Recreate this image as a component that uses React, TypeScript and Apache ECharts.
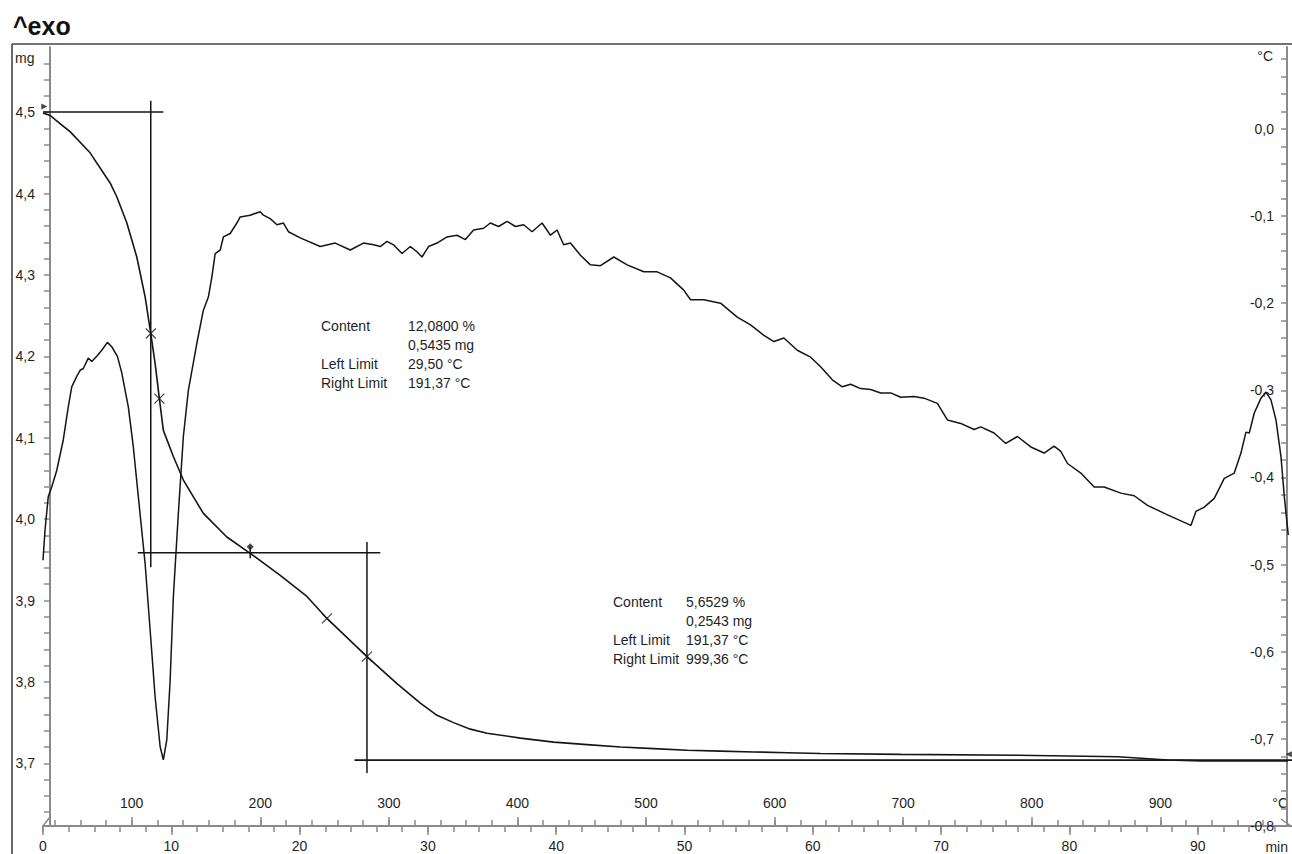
import React, { useEffect, useRef } from "react";
import * as echarts from "echarts";

const FONT = '"Liberation Sans", Arial, Helvetica, sans-serif';
const AXIS_GRAY = "#8a8a8a";
const TEXT = "#1f1f1f";
const INK = "#151515";

// ---- axis extents ----
const TIME_MIN = 0;
const TIME_MAX = 97.35;
const TEMP_MIN = 31.0;
const TEMP_MAX = 1002.4;
const MASS_MIN = 3.623;
const MASS_MAX = 4.58;
const DSC_MIN = -0.8;
const DSC_MAX = 0.094;

// ---- tick values / labels ----
const timeMajorTicks = [0, 10, 20, 30, 40, 50, 60, 70, 80, 90];
const timeMinorTicks = [0, 2, 4, 6, 8, 10, 12, 14, 16, 18, 20, 22, 24, 26, 28, 30, 32, 34, 36, 38, 40, 42, 44, 46, 48, 50, 52, 54, 56, 58, 60, 62, 64, 66, 68, 70, 72, 74, 76, 78, 80, 82, 84, 86, 88, 90, 92, 94, 96];
const tempMajorTicks = [100, 200, 300, 400, 500, 600, 700, 800, 900];
const tempMinorTicks = [40, 60, 80, 100, 120, 140, 160, 180, 200, 220, 240, 260, 280, 300, 320, 340, 360, 380, 400, 420, 440, 460, 480, 500, 520, 540, 560, 580, 600, 620, 640, 660, 680, 700, 720, 740, 760, 780, 800, 820, 840, 860, 880, 900, 920, 940, 960, 980];
const massTicks = [3.64, 3.66, 3.68, 3.7, 3.72, 3.74, 3.76, 3.78, 3.8, 3.82, 3.84, 3.86, 3.88, 3.9, 3.92, 3.94, 3.96, 3.98, 4.0, 4.02, 4.04, 4.06, 4.08, 4.1, 4.12, 4.14, 4.16, 4.18, 4.2, 4.22, 4.24, 4.26, 4.28, 4.3, 4.32, 4.34, 4.36, 4.38, 4.4, 4.42, 4.44, 4.46, 4.48, 4.5, 4.52, 4.54, 4.56];
const massLabels = [3.7, 3.8, 3.9, 4.0, 4.1, 4.2, 4.3, 4.4, 4.5];
const dscTicks = [-0.8, -0.78, -0.76, -0.74, -0.72, -0.7, -0.68, -0.66, -0.64, -0.62, -0.6, -0.58, -0.56, -0.54, -0.52, -0.5, -0.48, -0.46, -0.44, -0.42, -0.4, -0.38, -0.36, -0.34, -0.32, -0.3, -0.28, -0.26, -0.24, -0.22, -0.2, -0.18, -0.16, -0.14, -0.12, -0.1, -0.08, -0.06, -0.04, -0.02, 0, 0.02, 0.04, 0.06, 0.08];
const dscLabels = [-0.8, -0.7, -0.6, -0.5, -0.4, -0.3, -0.2, -0.1, 0];

// ---- TGA curve (time in min, mass in mg) ----
const tgaTime = [0.0, 0.55, 1.33, 2.11, 3.67, 5.23, 5.75, 6.53, 7.31, 7.96, 8.4, 8.74, 9.07, 9.38, 10.16, 10.94, 12.5, 14.33, 16.15, 18.49, 20.57, 22.13, 25.25, 27.59, 29.41, 30.71, 32.0, 33.31, 34.61, 37.21, 39.81, 42.41, 45.01, 47.61, 50.21, 52.81, 55.41, 58.01, 60.61, 66.85, 75.98, 83.78, 87.68, 90.25, 97.04];
const tgaMass = [4.499, 4.496, 4.486, 4.476, 4.45, 4.413, 4.396, 4.364, 4.322, 4.273, 4.228, 4.191, 4.148, 4.109, 4.077, 4.048, 4.007, 3.978, 3.958, 3.931, 3.905, 3.878, 3.831, 3.798, 3.774, 3.759, 3.75, 3.742, 3.737, 3.731, 3.726, 3.723, 3.72, 3.718, 3.716, 3.715, 3.714, 3.713, 3.712, 3.711, 3.71, 3.708, 3.704, 3.703, 3.703];

// ---- SDTA / DSC curve (time in min, signal in °C) ----
const dscTime = [0.0, 0.16, 0.41, 0.68, 1.07, 1.58, 1.97, 2.24, 2.63, 2.89, 3.14, 3.53, 3.8, 4.19, 4.58, 5.02, 5.36, 5.8, 6.14, 6.4, 6.65, 7.04, 7.43, 7.96, 8.35, 8.74, 9.13, 9.38, 9.65, 9.91, 10.16, 10.55, 10.94, 11.33, 11.99, 12.5, 12.89, 13.16, 13.42, 13.81, 14.06, 14.59, 15.11, 15.37, 16.15, 16.93, 17.18, 17.71, 18.23, 18.74, 19.13, 20.05, 21.61, 22.78, 23.95, 24.98, 25.76, 26.29, 26.81, 27.32, 27.98, 28.63, 29.15, 29.54, 30.05, 30.71, 31.49, 32.27, 32.92, 33.56, 34.34, 34.87, 35.51, 36.17, 36.82, 37.46, 38.12, 38.9, 39.55, 40.07, 40.58, 41.11, 41.89, 42.67, 43.45, 44.49, 45.53, 46.83, 47.87, 48.91, 49.94, 50.47, 51.51, 52.81, 54.11, 55.15, 56.19, 56.97, 57.75, 58.79, 59.83, 60.61, 61.52, 62.3, 62.95, 63.73, 64.51, 65.29, 66.07, 66.85, 67.89, 68.67, 69.71, 70.49, 71.53, 72.57, 73.09, 74.13, 75.04, 75.95, 76.99, 78.03, 78.81, 79.33, 79.85, 80.89, 81.93, 82.71, 84.01, 85.05, 86.09, 87.65, 89.47, 89.86, 90.51, 91.29, 92.07, 92.85, 93.37, 93.76, 94.02, 94.41, 94.93, 95.32, 95.71, 96.1, 96.49, 96.75, 97.06];
const dscValue = [-0.495, -0.46, -0.422, -0.411, -0.392, -0.357, -0.319, -0.296, -0.284, -0.277, -0.275, -0.263, -0.267, -0.261, -0.254, -0.245, -0.25, -0.261, -0.28, -0.3, -0.319, -0.365, -0.422, -0.499, -0.575, -0.652, -0.709, -0.724, -0.701, -0.633, -0.537, -0.441, -0.353, -0.3, -0.246, -0.208, -0.193, -0.17, -0.143, -0.139, -0.124, -0.12, -0.108, -0.101, -0.099, -0.095, -0.099, -0.103, -0.11, -0.108, -0.118, -0.125, -0.135, -0.131, -0.139, -0.131, -0.133, -0.135, -0.129, -0.133, -0.143, -0.135, -0.141, -0.147, -0.135, -0.131, -0.124, -0.122, -0.127, -0.116, -0.114, -0.108, -0.112, -0.106, -0.112, -0.11, -0.118, -0.108, -0.122, -0.116, -0.133, -0.131, -0.145, -0.156, -0.157, -0.147, -0.156, -0.164, -0.164, -0.171, -0.185, -0.196, -0.196, -0.2, -0.216, -0.225, -0.237, -0.244, -0.24, -0.254, -0.262, -0.273, -0.288, -0.296, -0.293, -0.298, -0.299, -0.303, -0.303, -0.308, -0.307, -0.309, -0.315, -0.334, -0.338, -0.345, -0.342, -0.349, -0.361, -0.353, -0.365, -0.372, -0.364, -0.37, -0.384, -0.395, -0.411, -0.411, -0.418, -0.421, -0.432, -0.443, -0.455, -0.439, -0.434, -0.424, -0.401, -0.395, -0.372, -0.348, -0.349, -0.326, -0.309, -0.302, -0.311, -0.334, -0.376, -0.422, -0.466];

// ---- step evaluation construction lines (time, mg) ----
const step1TopTime = [0, 9.38];
const step1TopMass = [4.5, 4.5];
const step1VertTime = [8.4, 8.4];
const step1VertMass = [4.514, 3.941];
const step1BaseTime = [7.39, 26.29];
const step1BaseMass = [3.9586, 3.9586];
const step2VertTime = [25.25, 25.25];
const step2VertMass = [3.972, 3.688];
const step2BaseTime = [24.28, 97.35];
const step2BaseMass = [3.704, 3.704];
const boundaryStemTime = [16.15, 16.15];
const boundaryStemMass = [3.965, 3.952];

// ---- markers ----
const crossTime = [8.4, 9.07, 22.13, 25.25];
const crossMass = [4.228, 4.148, 3.878, 3.831];
const diamondTime = [16.15];
const diamondMass = [3.966];
const startFlagTime = [0.1];
const startFlagMass = [4.507];
const endFlagTime = [97.1];
const endFlagMass = [3.711];

// ---- annotation texts ----
const step1Labels = ["Content", "", "Left Limit", "Right Limit"];
const step1Values = ["12,0800 %", "0,5435 mg", "29,50 °C", "191,37 °C"];
const step2Labels = ["Content", "", "Left Limit", "Right Limit"];
const step2Values = ["5,6529 %", "0,2543 mg", "191,37 °C", "999,36 °C"];

const pairs = (xs: number[], ys: number[]) => xs.map((x, i) => [x, ys[i]]);
const fmt = (v: number) => (Math.abs(v) < 1e-9 ? 0 : v).toFixed(1).replace(".", ",");

const tickStyle = { color: AXIS_GRAY, width: 1.5 };
const labelStyle = { fontSize: 14, color: TEXT, fontFamily: FONT };

function segment(xs: number[], ys: number[], width = 1.5) {
  return {
    type: "line",
    xAxisIndex: 0,
    yAxisIndex: 0,
    data: pairs(xs, ys),
    symbol: "none",
    showSymbol: false,
    silent: true,
    lineStyle: { color: INK, width },
    z: 3,
  };
}

function textBlock(x: number, y: number, lines: string[]) {
  return {
    type: "text",
    x,
    y,
    silent: true,
    style: {
      text: lines.join("\n"),
      fontSize: 14,
      fontFamily: FONT,
      fill: TEXT,
      lineHeight: 19,
      align: "left",
      verticalAlign: "top",
    },
  };
}

function buildOption() {
  return {
    animation: false,
    backgroundColor: "#ffffff",
    textStyle: { fontFamily: FONT },
    grid: { left: 43, right: 0, top: 47, bottom: 28, containLabel: false, outerBoundsMode: "none" },
    xAxis: [
      {
        type: "value",
        position: "bottom",
        min: TIME_MIN,
        max: TIME_MAX,
        axisLine: { show: true, onZero: false, lineStyle: { color: AXIS_GRAY, width: 2 } },
        axisTick: { show: true, customValues: timeMajorTicks, length: 9, lineStyle: tickStyle },
        axisLabel: { show: true, customValues: timeMajorTicks, margin: 13, ...labelStyle, formatter: (v: number) => String(v) },
        splitLine: { show: false },
      },
      {
        type: "value",
        position: "bottom",
        min: TIME_MIN,
        max: TIME_MAX,
        axisLine: { show: false, onZero: false },
        axisTick: { show: true, customValues: timeMinorTicks, length: 6, lineStyle: tickStyle },
        axisLabel: { show: false },
        splitLine: { show: false },
      },
      {
        type: "value",
        position: "bottom",
        min: TEMP_MIN,
        max: TEMP_MAX,
        axisLine: { show: false, onZero: false },
        axisTick: { show: true, inside: true, customValues: tempMajorTicks, length: 9, lineStyle: tickStyle },
        axisLabel: { show: true, inside: true, customValues: tempMajorTicks, margin: 16, ...labelStyle, formatter: (v: number) => String(v) },
        splitLine: { show: false },
      },
      {
        type: "value",
        position: "bottom",
        min: TEMP_MIN,
        max: TEMP_MAX,
        axisLine: { show: false, onZero: false },
        axisTick: { show: true, inside: true, customValues: tempMinorTicks, length: 6, lineStyle: tickStyle },
        axisLabel: { show: false },
        splitLine: { show: false },
      },
    ],
    yAxis: [
      {
        type: "value",
        position: "left",
        offset: -7,
        min: MASS_MIN,
        max: MASS_MAX,
        axisLine: { show: true, onZero: false, lineStyle: { color: AXIS_GRAY, width: 2 } },
        axisTick: { show: true, customValues: massTicks, length: 6, lineStyle: tickStyle },
        axisLabel: { show: true, customValues: massLabels, margin: 15, ...labelStyle, formatter: fmt },
        splitLine: { show: false },
      },
      {
        type: "value",
        position: "right",
        offset: -5,
        min: DSC_MIN,
        max: DSC_MAX,
        axisLine: { show: true, onZero: false, lineStyle: { color: AXIS_GRAY, width: 2 } },
        axisTick: { show: true, inside: true, customValues: dscTicks, length: 6, lineStyle: tickStyle },
        axisLabel: { show: true, inside: true, customValues: dscLabels, margin: 13, ...labelStyle, formatter: fmt },
        splitLine: { show: false },
      },
    ],
    series: [
      {
        name: "TGA",
        type: "line",
        xAxisIndex: 0,
        yAxisIndex: 0,
        data: pairs(tgaTime, tgaMass),
        symbol: "none",
        showSymbol: false,
        smooth: false,
        lineStyle: { color: INK, width: 1.6 },
        z: 4,
      },
      {
        name: "SDTA",
        type: "line",
        xAxisIndex: 0,
        yAxisIndex: 1,
        data: pairs(dscTime, dscValue),
        symbol: "none",
        showSymbol: false,
        lineStyle: { color: INK, width: 1.5 },
        z: 4,
      },
      segment(step1TopTime, step1TopMass),
      segment(step1VertTime, step1VertMass),
      segment(step1BaseTime, step1BaseMass),
      segment(step2VertTime, step2VertMass),
      segment(step2BaseTime, step2BaseMass, 1.8),
      segment(boundaryStemTime, boundaryStemMass, 1.5),
      {
        type: "scatter",
        xAxisIndex: 0,
        yAxisIndex: 0,
        data: pairs(crossTime, crossMass),
        symbol: "path://M0,0L10,10M10,0L0,10",
        symbolSize: 10,
        itemStyle: { color: "transparent", borderColor: INK, borderWidth: 1.2 },
        silent: true,
        z: 5,
      },
      {
        type: "scatter",
        xAxisIndex: 0,
        yAxisIndex: 0,
        data: pairs(diamondTime, diamondMass),
        symbol: "diamond",
        symbolSize: 7,
        itemStyle: { color: INK },
        silent: true,
        z: 5,
      },
      {
        type: "scatter",
        xAxisIndex: 0,
        yAxisIndex: 0,
        data: pairs(startFlagTime, startFlagMass),
        symbol: "triangle",
        symbolSize: 6,
        symbolRotate: -90,
        itemStyle: { color: INK },
        silent: true,
        z: 5,
      },
      {
        type: "scatter",
        xAxisIndex: 0,
        yAxisIndex: 0,
        data: pairs(endFlagTime, endFlagMass),
        symbol: "triangle",
        symbolSize: 6,
        symbolRotate: 90,
        itemStyle: { color: INK },
        silent: true,
        z: 5,
      },
    ],
    graphic: [
      { type: "line", silent: true, shape: { x1: 12, y1: 44, x2: 1292, y2: 44 }, style: { stroke: "#444", lineWidth: 1.6 } },
      { type: "line", silent: true, shape: { x1: 12, y1: 44, x2: 12, y2: 854 }, style: { stroke: "#444", lineWidth: 1.6 } },
      { type: "line", silent: true, shape: { x1: 43, y1: 826, x2: 50, y2: 817 }, style: { stroke: AXIS_GRAY, lineWidth: 1.5 } },
      { type: "line", silent: true, shape: { x1: 1281, y1: 819, x2: 1291, y2: 826 }, style: { stroke: AXIS_GRAY, lineWidth: 1.5 } },
      {
        type: "text",
        x: 13,
        y: 13,
        silent: true,
        style: { text: "^exo", fontSize: 25, fontWeight: "bold", fontFamily: FONT, fill: "#111", align: "left", verticalAlign: "top" },
      },
      { type: "text", x: 15, y: 58, silent: true, style: { text: "mg", ...labelStyle, fill: TEXT, align: "left", verticalAlign: "middle" } },
      { type: "text", x: 1273, y: 56, silent: true, style: { text: "°C", ...labelStyle, fill: TEXT, align: "right", verticalAlign: "middle" } },
      { type: "text", x: 1288, y: 803, silent: true, style: { text: "°C", ...labelStyle, fill: TEXT, align: "right", verticalAlign: "middle" } },
      { type: "text", x: 1288, y: 847, silent: true, style: { text: "min", ...labelStyle, fill: TEXT, align: "right", verticalAlign: "middle" } },
      textBlock(321, 316, step1Labels),
      textBlock(408, 316, step1Values),
      textBlock(613, 592, step2Labels),
      textBlock(686, 592, step2Values),
    ],
  };
}

export default function App() {
  const ref = useRef<HTMLDivElement | null>(null);
  useEffect(() => {
    if (!ref.current) return;
    const chart = echarts.init(ref.current, undefined, { renderer: "svg" });
    chart.setOption(buildOption() as any);
    return () => chart.dispose();
  }, []);
  return (
    <div
      ref={ref}
      style={{ position: "fixed", left: 0, top: 0, width: 1292, height: 854, background: "#ffffff" }}
    />
  );
}
